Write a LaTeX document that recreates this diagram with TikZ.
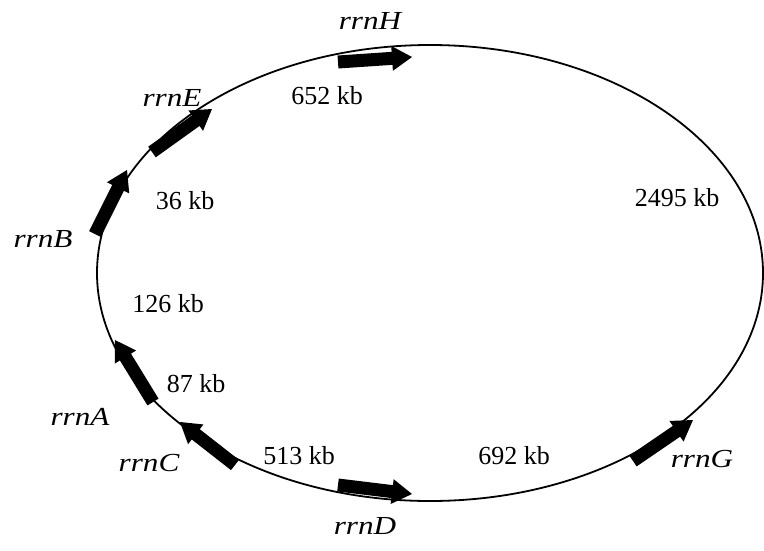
\documentclass[tikz,border=0pt]{standalone}
\usepackage{fontspec}
\usepackage{graphicx}
\setmainfont{Liberation Serif}
\usetikzlibrary{calc}
\tikzset{
  genome/.style={draw=black, line width=1.8pt},
  genefill/.style={fill=black, draw=none},
  genelabel/.style={font=\fontsize{26}{26}\selectfont\itshape, inner sep=0pt},
  distlabel/.style={font=\fontsize{26}{26}\selectfont, inner sep=0pt},
}
\newcommand{\genearrow}[2]{%
  \coordinate (#1-h) at ($(#2)!20pt!(#1)$);
  \fill[genefill] ($(#1)!6.5pt!90:(#2)$) -- ($(#1-h)!6.5pt!90:(#2)$) --
    ($(#1-h)!12.5pt!90:(#2)$) -- (#2) -- ($(#1-h)!12.5pt!-90:(#2)$) --
    ($(#1-h)!6.5pt!-90:(#2)$) -- ($(#1)!6.5pt!-90:(#2)$) -- cycle;
}
\begin{document}
\begin{tikzpicture}[x=1pt,y=-1pt]
\useasboundingbox (0,0) rectangle (764,550);
\fill[white] (0,0) rectangle (764,550);
\draw[genome] (430,273) ellipse [x radius=333, y radius=228];

% gene arrows: tail and tip coordinates
\coordinate (Ht) at (338,62);  \coordinate (Hp) at (412,57);
\coordinate (Et) at (152,152); \coordinate (Ep) at (212,109);
\coordinate (Bt) at (95,234);  \coordinate (Bp) at (127,170);
\coordinate (At) at (153,402); \coordinate (Ap) at (115,340);
\coordinate (Ct) at (235,465); \coordinate (Cp) at (180,422);
\coordinate (Dt) at (338,485); \coordinate (Dp) at (412,494);
\coordinate (Gt) at (633,461); \coordinate (Gp) at (693,420);
\genearrow{Ht}{Hp}
\genearrow{Et}{Ep}
\genearrow{Bt}{Bp}
\genearrow{At}{Ap}
\genearrow{Ct}{Cp}
\genearrow{Dt}{Dp}
\genearrow{Gt}{Gp}

% gene labels
\node[genelabel] (lH) at (370,21) {\scalebox{1.2}[1]{rrnH}};
\node[genelabel] (lE) at (172,98) {\scalebox{1.2}[1]{rrnE}};
\node[genelabel] (lB) at (43,239) {\scalebox{1.2}[1]{rrnB}};
\node[genelabel] (lA) at (80,417) {\scalebox{1.2}[1]{rrnA}};
\node[genelabel] (lC) at (149,463) {\scalebox{1.2}[1]{rrnC}};
\node[genelabel] (lD) at (365,526) {\scalebox{1.2}[1]{rrnD}};
\node[genelabel] (lG) at (702,459) {\scalebox{1.2}[1]{rrnG}};

% distances
\node[distlabel] (d652) at (327,96) {652 kb};
\node[distlabel] (d36) at (185,201) {36 kb};
\node[distlabel] (d126) at (168,304) {126 kb};
\node[distlabel] (d87) at (196,384) {87 kb};
\node[distlabel] (d513) at (299,456) {513 kb};
\node[distlabel] (d692) at (514,456) {692 kb};
\node[distlabel] (d2495) at (677,198) {2495 kb};
\end{tikzpicture}
\end{document}
